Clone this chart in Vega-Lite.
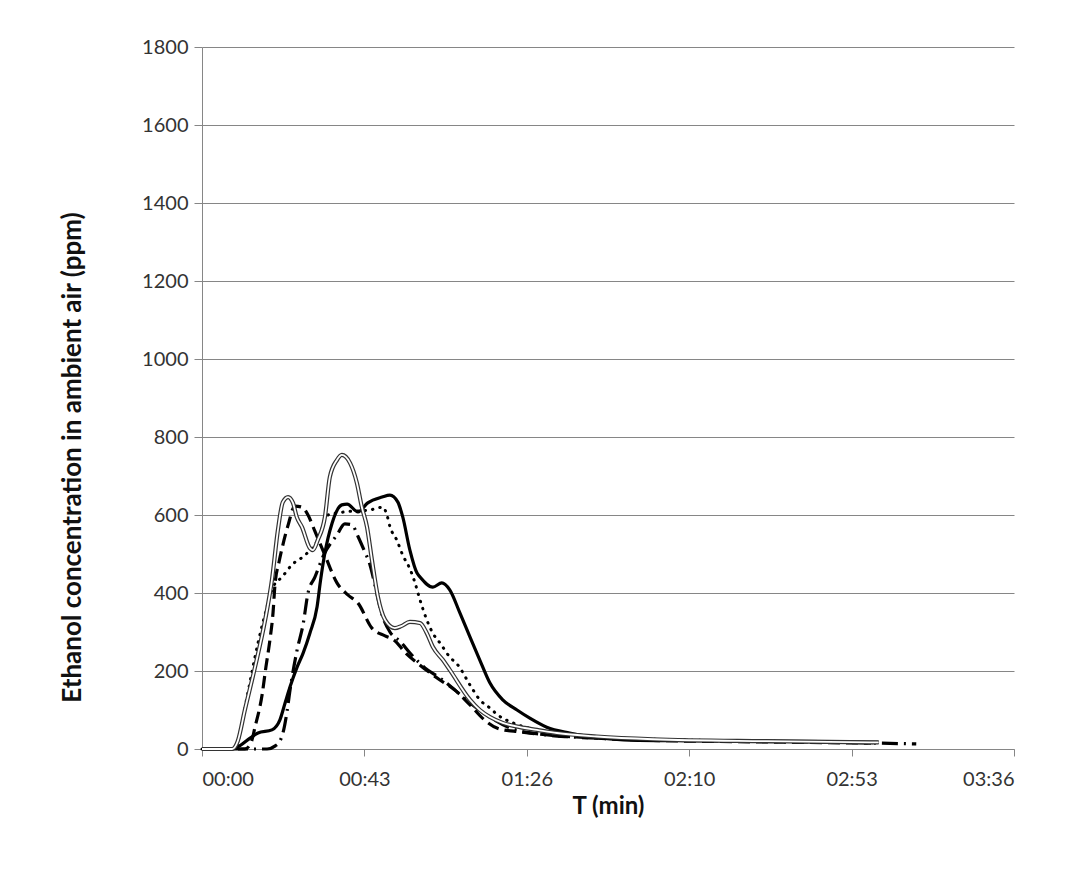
{
"$schema": "https://vega.github.io/schema/vega-lite/v6.json",
"width": 812, "height": 702,
"autosize": {"type": "none"},
"padding": {"left": 202, "top": 47, "right": 54, "bottom": 120},
"background": "white",
"config": {
 "view": {"stroke": null},
 "font": "Lato",
 "axis": {"domainColor": "#868686", "tickColor": "#868686", "gridColor": "#868686", "gridWidth": 1, "labelFont": "Lato", "labelFontSize": 20, "labelColor": "#333", "titleFont": "Lato", "titleFontWeight": "bold", "titleColor": "#111"}
},
"data": {"values": [
{"s":"A","t":0,"v":0},{"s":"A","t":7.4,"v":0},{"s":"A","t":10,"v":8},{"s":"A","t":12.8,"v":28},{"s":"A","t":14.9,"v":41},{"s":"A","t":18.6,"v":49},{"s":"A","t":20.7,"v":74},{"s":"A","t":22.1,"v":118},{"s":"A","t":23.4,"v":159},{"s":"A","t":25.3,"v":210},{"s":"A","t":26.9,"v":246},{"s":"A","t":28.7,"v":297},{"s":"A","t":30.6,"v":364},{"s":"A","t":31.5,"v":430},{"s":"A","t":32.7,"v":503},{"s":"A","t":34.6,"v":579},{"s":"A","t":37.2,"v":626},{"s":"A","t":38.6,"v":628},{"s":"A","t":41.5,"v":608},{"s":"A","t":44.1,"v":631},{"s":"A","t":47.9,"v":646},{"s":"A","t":50.0,"v":651},{"s":"A","t":52.1,"v":633},{"s":"A","t":53.4,"v":595},{"s":"A","t":55.3,"v":510},{"s":"A","t":57.2,"v":451},{"s":"A","t":58.0,"v":441},{"s":"A","t":61.4,"v":415},{"s":"A","t":63.8,"v":426},{"s":"A","t":65.9,"v":408},{"s":"A","t":68.6,"v":349},{"s":"A","t":71.3,"v":287},{"s":"A","t":73.9,"v":228},{"s":"A","t":76.6,"v":169},{"s":"A","t":80.0,"v":126},{"s":"A","t":83.8,"v":100},{"s":"A","t":87.2,"v":79},{"s":"A","t":91.7,"v":56},{"s":"A","t":97.8,"v":41},{"s":"A","t":106.6,"v":28},{"s":"A","t":113.8,"v":23},{"s":"A","t":130,"v":21},{"s":"A","t":150,"v":20},{"s":"A","t":165,"v":19},{"s":"A","t":180,"v":17},
{"s":"B","t":0,"v":0},{"s":"B","t":8,"v":0},{"s":"B","t":9.5,"v":20},{"s":"B","t":11.4,"v":100},{"s":"B","t":14.1,"v":210},{"s":"B","t":16.8,"v":331},{"s":"B","t":18.6,"v":433},{"s":"B","t":20.2,"v":562},{"s":"B","t":21.5,"v":633},{"s":"B","t":22.9,"v":646},{"s":"B","t":24.2,"v":631},{"s":"B","t":25.2,"v":595},{"s":"B","t":26.6,"v":569},{"s":"B","t":28.7,"v":515},{"s":"B","t":29.5,"v":510},{"s":"B","t":30.8,"v":536},{"s":"B","t":32.7,"v":595},{"s":"B","t":34.0,"v":697},{"s":"B","t":35.9,"v":741},{"s":"B","t":37.2,"v":754},{"s":"B","t":39.4,"v":733},{"s":"B","t":41.2,"v":682},{"s":"B","t":42.5,"v":621},{"s":"B","t":43.9,"v":569},{"s":"B","t":45.2,"v":485},{"s":"B","t":46.8,"v":390},{"s":"B","t":48.7,"v":331},{"s":"B","t":51.3,"v":310},{"s":"B","t":53,"v":315},{"s":"B","t":55.3,"v":326},{"s":"B","t":58.0,"v":323},{"s":"B","t":59.8,"v":297},{"s":"B","t":61.4,"v":262},{"s":"B","t":64.1,"v":228},{"s":"B","t":65.9,"v":203},{"s":"B","t":71.3,"v":126},{"s":"B","t":73.9,"v":100},{"s":"B","t":76.6,"v":82},{"s":"B","t":80.0,"v":67},{"s":"B","t":84.6,"v":56},{"s":"B","t":89.1,"v":49},{"s":"B","t":94.4,"v":41},{"s":"B","t":105,"v":32},{"s":"B","t":120,"v":25},{"s":"B","t":150,"v":20},{"s":"B","t":180,"v":17},
{"s":"C","t":0,"v":0},{"s":"C","t":8.8,"v":0},{"s":"C","t":10.5,"v":60},{"s":"C","t":12.2,"v":144},{"s":"C","t":14.9,"v":272},{"s":"C","t":17.3,"v":364},{"s":"C","t":18.9,"v":415},{"s":"C","t":21.3,"v":441},{"s":"C","t":23.9,"v":472},{"s":"C","t":27.4,"v":497},{"s":"C","t":30.8,"v":536},{"s":"C","t":33.5,"v":600},{"s":"C","t":38.0,"v":608},{"s":"C","t":44.7,"v":613},{"s":"C","t":48.1,"v":620},{"s":"C","t":49.2,"v":600},{"s":"C","t":50.0,"v":570},{"s":"C","t":51.8,"v":536},{"s":"C","t":53.4,"v":497},{"s":"C","t":55.3,"v":462},{"s":"C","t":56.6,"v":428},{"s":"C","t":58.0,"v":382},{"s":"C","t":59.8,"v":331},{"s":"C","t":61.4,"v":297},{"s":"C","t":63.3,"v":272},{"s":"C","t":65.9,"v":236},{"s":"C","t":68.1,"v":215},{"s":"C","t":71.3,"v":164},{"s":"C","t":73.9,"v":126},{"s":"C","t":76.6,"v":105},{"s":"C","t":78.7,"v":87},{"s":"C","t":82.7,"v":67},{"s":"C","t":89.1,"v":49},{"s":"C","t":100,"v":36},{"s":"C","t":120,"v":25},{"s":"C","t":150,"v":20},{"s":"C","t":180,"v":16},
{"s":"D","t":0,"v":0},{"s":"D","t":11.4,"v":0},{"s":"D","t":13,"v":15},{"s":"D","t":14.1,"v":56},{"s":"D","t":16,"v":140},{"s":"D","t":17,"v":210},{"s":"D","t":18.1,"v":282},{"s":"D","t":18.9,"v":350},{"s":"D","t":19.4,"v":420},{"s":"D","t":20.5,"v":480},{"s":"D","t":21.5,"v":523},{"s":"D","t":22.9,"v":574},{"s":"D","t":24.7,"v":623},{"s":"D","t":26.6,"v":620},{"s":"D","t":28.2,"v":600},{"s":"D","t":30,"v":559},{"s":"D","t":32.7,"v":497},{"s":"D","t":35.9,"v":426},{"s":"D","t":38.8,"v":395},{"s":"D","t":41.5,"v":374},{"s":"D","t":45.2,"v":310},{"s":"D","t":48.7,"v":290},{"s":"D","t":51,"v":280},{"s":"D","t":54.2,"v":246},{"s":"D","t":58,"v":215},{"s":"D","t":63.3,"v":177},{"s":"D","t":67.3,"v":151},{"s":"D","t":71.3,"v":113},{"s":"D","t":75.2,"v":74},{"s":"D","t":79.2,"v":51},{"s":"D","t":84.6,"v":44},{"s":"D","t":92,"v":36},{"s":"D","t":105,"v":28},{"s":"D","t":120,"v":22},{"s":"D","t":150,"v":18},{"s":"D","t":178,"v":15},
{"s":"E","t":0,"v":0},{"s":"E","t":17.3,"v":0},{"s":"E","t":19.5,"v":8},{"s":"E","t":20.7,"v":20},{"s":"E","t":21.5,"v":40},{"s":"E","t":22.6,"v":95},{"s":"E","t":23.4,"v":150},{"s":"E","t":25.3,"v":254},{"s":"E","t":26.9,"v":320},{"s":"E","t":28.2,"v":400},{"s":"E","t":30,"v":440},{"s":"E","t":32.5,"v":500},{"s":"E","t":35.9,"v":549},{"s":"E","t":38,"v":577},{"s":"E","t":39.9,"v":575},{"s":"E","t":41.5,"v":545},{"s":"E","t":43.1,"v":510},{"s":"E","t":44.7,"v":472},{"s":"E","t":46.3,"v":408},{"s":"E","t":47.9,"v":344},{"s":"E","t":50,"v":300},{"s":"E","t":52.6,"v":277},{"s":"E","t":55.8,"v":241},{"s":"E","t":59.3,"v":208},{"s":"E","t":63.3,"v":182},{"s":"E","t":67.3,"v":151},{"s":"E","t":71.3,"v":118},{"s":"E","t":76.6,"v":82},{"s":"E","t":81.9,"v":54},{"s":"E","t":89.9,"v":38},{"s":"E","t":98,"v":31},{"s":"E","t":110,"v":26},{"s":"E","t":130,"v":22},{"s":"E","t":150,"v":19},{"s":"E","t":170,"v":17},{"s":"E","t":180,"v":15},{"s":"E","t":190,"v":13}
]},
"encoding": {
 "x": {"field": "t", "type": "quantitative", "scale": {"domain": [0, 216], "nice": false, "zero": false},
  "axis": {"values": [0, 43.2, 86.4, 129.6, 172.8, 216], "labelExpr": "utcFormat(round(datum.value)*1000, '%M:%S')", "title": "T (min)", "titleFontSize": 24, "titleBaseline": "middle", "titleY": 57, "grid": false, "tickSize": 7, "labelPadding": 13}},
 "y": {"field": "v", "type": "quantitative", "scale": {"domain": [0, 1800], "nice": false},
  "axis": {"values": [0, 200, 400, 600, 800, 1000, 1200, 1400, 1600, 1800], "format": "d", "grid": true, "tickSize": 8, "labelPadding": 6, "title": "Ethanol concentration in ambient air  (ppm)", "titleFontSize": 26, "titleBaseline": "middle", "titleX": -130, "titleY": 410}}
},
"layer": [
 {"transform": [{"filter": "datum.s === 'A'"}], "mark": {"type": "line", "interpolate": "monotone", "color": "black", "strokeWidth": 3.2}},
 {"transform": [{"filter": "datum.s === 'C'"}], "mark": {"type": "line", "interpolate": "monotone", "color": "black", "strokeWidth": 3, "strokeDash": [0.5, 7], "strokeCap": "round"}},
 {"transform": [{"filter": "datum.s === 'D'"}], "mark": {"type": "line", "interpolate": "monotone", "color": "black", "strokeWidth": 3.2, "strokeDash": [12, 6]}},
 {"transform": [{"filter": "datum.s === 'E'"}], "mark": {"type": "line", "interpolate": "monotone", "color": "black", "strokeWidth": 3.2, "strokeDash": [16, 6, 2, 6]}},
 {"transform": [{"filter": "datum.s === 'B'"}], "mark": {"type": "line", "interpolate": "monotone", "color": "#333", "strokeWidth": 4.2}},
 {"transform": [{"filter": "datum.s === 'B'"}], "mark": {"type": "line", "interpolate": "monotone", "color": "white", "strokeWidth": 1.8}}
]
}
